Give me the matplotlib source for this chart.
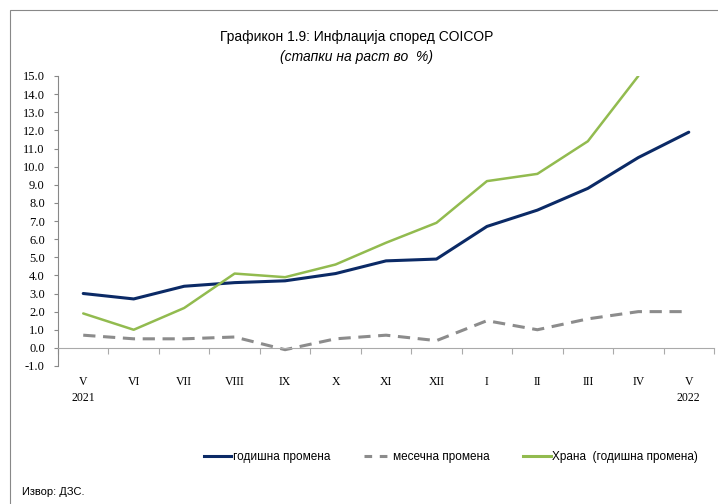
import numpy as np
import matplotlib.pyplot as plt
from matplotlib.lines import Line2D
from matplotlib.patches import Rectangle
from matplotlib import transforms

months = ['V', 'VI', 'VII', 'VIII', 'IX', 'X', 'XI', 'XII', 'I', 'II', 'III', 'IV', 'V']
years = {0: '2021', 12: '2022'}
annual = [3.0, 2.7, 3.4, 3.6, 3.7, 4.1, 4.8, 4.9, 6.7, 7.6, 8.8, 10.5, 11.9]
monthly = [0.7, 0.5, 0.5, 0.6, -0.1, 0.5, 0.7, 0.4, 1.5, 1.0, 1.6, 2.0, 2.0]
food = [1.9, 1.0, 2.2, 4.1, 3.9, 4.6, 5.8, 6.9, 9.2, 9.6, 11.4, 15.0, np.nan]
yticks = np.arange(-1, 16, 1)

sans = ['Liberation Sans', 'DejaVu Sans']
serif = ['Liberation Serif', 'DejaVu Serif']

fig = plt.figure(figsize=(7.18, 5.04), dpi=100)
W, H = 718, 504
ax = fig.add_axes([58 / W, 138 / H, 656 / W, 290 / H])

x = np.arange(len(months))
ax.plot(x, annual, color='#0b2a66', lw=2.2, solid_capstyle='round')
ax.plot(x, monthly, color='#8c8c8c', lw=2.2, dashes=(4, 2.5))
ax.plot(x, food, color='#92bb4f', lw=1.8, solid_capstyle='round')

ax.set_xlim(-0.5, len(months) - 0.5)
ax.set_ylim(-1, 15)
ax.set_yticks(yticks)
ax.set_yticklabels([f'{v:.1f}' for v in yticks], fontfamily=serif, fontsize=9)
ax.tick_params(axis='y', length=3, color='#888888', pad=6.5)

for s in ['top', 'right']:
    ax.spines[s].set_visible(False)
ax.spines['left'].set_color('#888888')
ax.spines['bottom'].set_color('#aaaaaa')
ax.spines['bottom'].set_position(('data', 0))
ax.set_xticks(np.arange(len(months) + 1) - 0.5)
ax.set_xticklabels([])
ax.tick_params(axis='x', length=4, color='#aaaaaa', direction='out')

tr = transforms.blended_transform_factory(ax.transData, fig.transFigure)
for i, m in enumerate(months):
    ax.text(i, 1 - 382 / H, m, transform=tr, ha='center', va='center',
            fontfamily=serif, fontsize=8.5)
for i, yr in years.items():
    ax.text(i, 1 - 398 / H, yr, transform=tr, ha='center', va='center',
            fontfamily=serif, fontsize=8.5)

fig.text(357 / W, 1 - 37 / H, 'Графикон 1.9: Инфлација според COICOP',
         ha='center', va='center', fontfamily=sans, fontsize=10)
fig.text(357 / W, 1 - 57 / H, '(стапки на раст во  %)', ha='center', va='center',
         fontfamily=sans, fontsize=10, style='italic')

handles = [Line2D([], [], color='#0b2a66', lw=2.2),
           Line2D([], [], color='#8c8c8c', lw=2.2, dashes=(2.5, 2.5)),
           Line2D([], [], color='#92bb4f', lw=2.2)]
labels = ['годишна промена', 'месечна промена', 'Храна  (годишна промена)']
fig.legend(handles, labels, loc='center', bbox_to_anchor=(451 / W, 1 - 457 / H),
           ncol=3, frameon=False, handlelength=2.3, handletextpad=0.1,
           columnspacing=2.9, prop={'family': sans, 'size': 8.5})

fig.text(22 / W, 1 - 492 / H, 'Извор: ДЗС.', ha='left', va='center',
         fontfamily=sans, fontsize=8)

fig.patches.append(Rectangle((10 / W, -0.1), 1.2, 1 - 10 / H + 0.1,
                             transform=fig.transFigure, fill=False,
                             edgecolor='#888888', lw=0.8))

fig.savefig('out.png', dpi=100)
